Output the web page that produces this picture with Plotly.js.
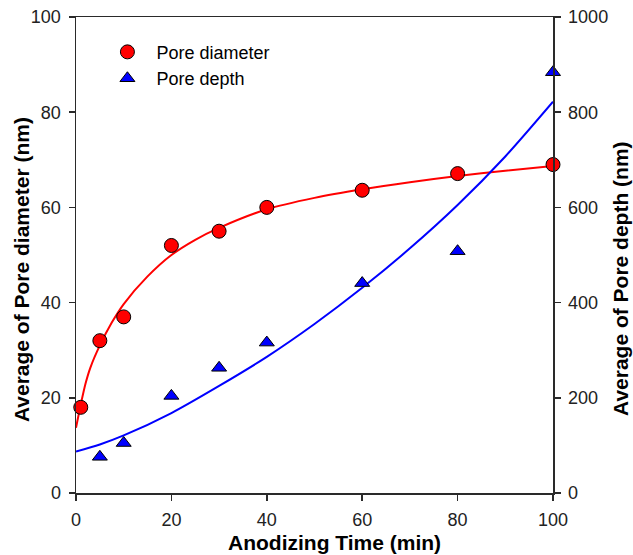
<!DOCTYPE html>
<html>
<head>
<meta charset="utf-8">
<script src="https://cdn.plot.ly/plotly-3.0.1.min.js"></script>
<style>
  html, body { margin: 0; padding: 0; background: #ffffff; }
  #chart { width: 633px; height: 555px; }
</style>
</head>
<body>
<div id="chart"></div>
<script>
// Measured data (anodizing time in min)
const timeDiameter = [1, 5, 10, 20, 30, 40, 60, 80, 100];
const poreDiameter = [18, 32, 37, 52, 55, 60, 63.6, 67.1, 69];

const timeDepth = [5, 10, 20, 30, 40, 60, 80, 100];
const poreDepth = [76, 105, 204, 263, 316, 441, 508, 884];

// Fitted curves
const fitDiamX = [0, 1, 2, 3, 5, 7.5, 10, 15, 20, 25, 30, 40, 50, 60, 70, 80, 90, 100];
const fitDiamY = [13.7, 18.6, 23, 26.3, 31, 35.8, 39.7, 45.5, 50, 53.2, 55.7, 59.6, 62, 63.8, 65.3, 66.6, 67.7, 68.7];

const fitDepthX = [0, 5, 10, 20, 30, 40, 50, 60, 70, 80, 90, 100];
const fitDepthY = [87, 102, 121, 168, 225, 286, 355, 431, 514, 605, 707, 822];

const xTicks = [0, 20, 40, 60, 80, 100];
const yLeftTicks = [0, 20, 40, 60, 80, 100];
const yRightTicks = [0, 200, 400, 600, 800, 1000];

const FONT = 'Liberation Sans, Arial, Helvetica, sans-serif';
const AXIS_COLOR = '#2a2a2a';

const traces = [
  {
    x: fitDiamX, y: fitDiamY, type: 'scatter', mode: 'lines',
    line: { color: '#ff0000', width: 2, shape: 'spline', smoothing: 0.8 },
    showlegend: false, hoverinfo: 'skip', yaxis: 'y'
  },
  {
    x: fitDepthX, y: fitDepthY, type: 'scatter', mode: 'lines',
    line: { color: '#0000ff', width: 2, shape: 'spline', smoothing: 0.8 },
    showlegend: false, hoverinfo: 'skip', yaxis: 'y2'
  },
  {
    x: timeDiameter, y: poreDiameter, type: 'scatter', mode: 'markers',
    name: 'Pore diameter',
    marker: { symbol: 'circle', size: 14, color: '#ff0000', line: { color: '#000000', width: 1 } },
    cliponaxis: false, yaxis: 'y'
  },
  {
    x: timeDepth, y: poreDepth, type: 'scatter', mode: 'markers',
    name: 'Pore depth',
    marker: { symbol: 'triangle-up', size: 13, color: '#0000ff', line: { color: '#000000', width: 1 } },
    cliponaxis: false, yaxis: 'y2'
  }
];

const axisCommon = {
  showgrid: false, zeroline: false,
  showline: true, linecolor: AXIS_COLOR, linewidth: 1.5,
  ticks: 'outside', ticklen: 6, tickwidth: 1.5, tickcolor: AXIS_COLOR,
  tickfont: { family: FONT, size: 18, color: '#222222' },
  fixedrange: true
};

const layout = {
  width: 633, height: 555,
  margin: { l: 76, r: 80, t: 17, b: 62 },
  paper_bgcolor: '#ffffff', plot_bgcolor: '#ffffff',
  font: { family: FONT, size: 18, color: '#000000' },
  xaxis: Object.assign({}, axisCommon, {
    range: [0, 100], tickvals: xTicks, mirror: true, ticklabelstandoff: 4
  }),
  yaxis: Object.assign({}, axisCommon, {
    range: [0, 100], tickvals: yLeftTicks, ticklabelstandoff: 4
  }),
  yaxis2: Object.assign({}, axisCommon, {
    range: [0, 1000], tickvals: yRightTicks, overlaying: 'y', side: 'right',
    ticklabelstandoff: 4
  }),
  showlegend: true,
  legend: {
    x: 0.047, y: 0.965, xanchor: 'left', yanchor: 'top',
    bgcolor: 'rgba(0,0,0,0)', borderwidth: 0,
    itemwidth: 48,
    font: { family: FONT, size: 18, color: '#000000' },
    tracegroupgap: 0
  },
  annotations: [
    {
      text: '<b>Anodizing Time (min)</b>', xref: 'paper', yref: 'paper',
      x: 0.542, y: -0.105, xanchor: 'center', yanchor: 'middle', showarrow: false,
      font: { family: FONT, size: 21, color: '#000000' }
    },
    {
      text: '<b>Average of Pore diameter (nm)</b>', xref: 'paper', yref: 'paper',
      x: -0.113, y: 0.4685, xanchor: 'center', yanchor: 'middle', showarrow: false,
      textangle: -90,
      font: { family: FONT, size: 21, color: '#000000' }
    },
    {
      text: '<b>Average of Pore depth (nm)</b>', xref: 'paper', yref: 'paper',
      x: 1.1426, y: 0.4496, xanchor: 'center', yanchor: 'middle', showarrow: false,
      textangle: -90,
      font: { family: FONT, size: 21, color: '#000000' }
    }
  ]
};

Plotly.newPlot('chart', traces, layout, { displayModeBar: false, staticPlot: true });
</script>
</body>
</html>
